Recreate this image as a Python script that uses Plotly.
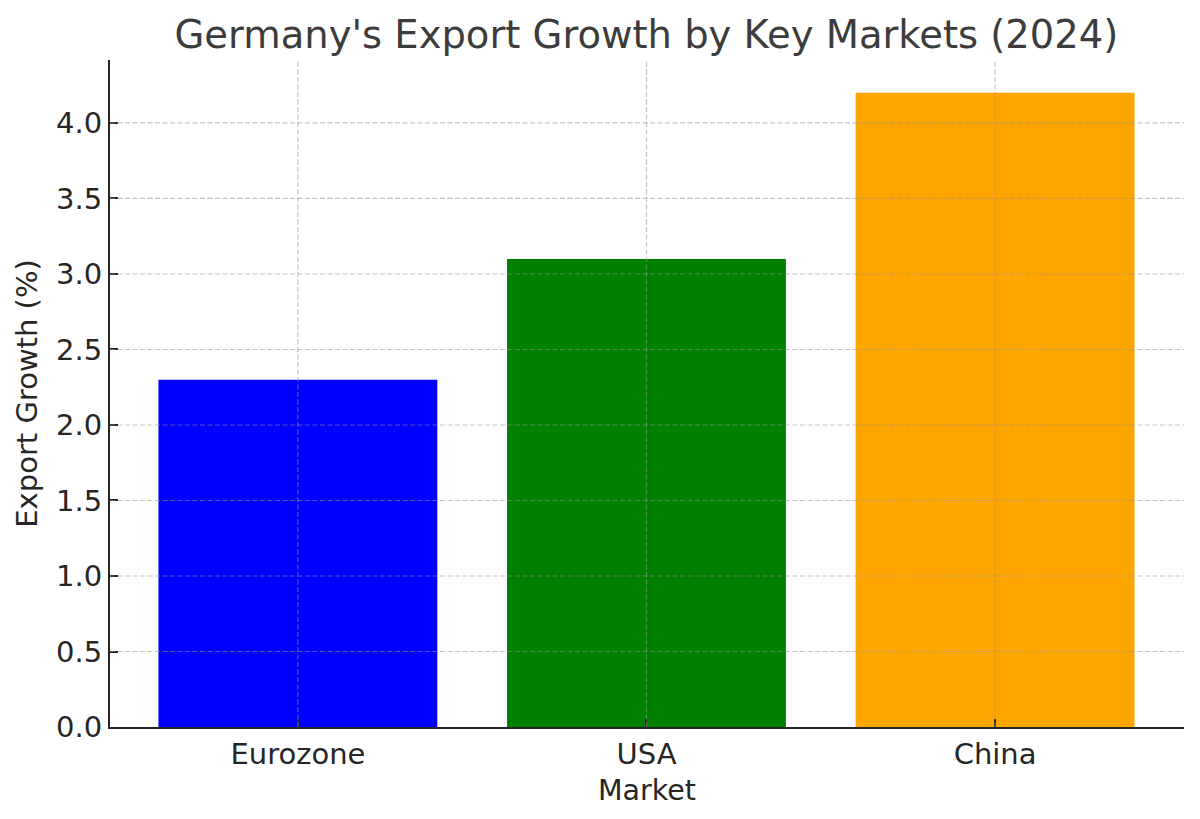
import plotly.graph_objects as go

# Data
markets = ['Eurozone', 'USA', 'China']
growth = [2.3, 3.1, 4.2]
bar_colors = ['#0000ff', '#008000', '#ffa500']
y_ticks = [0.0, 0.5, 1.0, 1.5, 2.0, 2.5, 3.0, 3.5, 4.0]

fig = go.Figure()

fig.add_trace(go.Bar(x=markets, y=growth, marker_color=bar_colors,
                     marker_line_width=0, width=0.8))

# Grid sits on top of the bars, so draw it as shapes instead of axis grid
grid_line = dict(color='rgba(150,150,150,0.55)', width=1.2, dash='5px,2.5px')
for tick in y_ticks[1:]:
    fig.add_shape(type='line', xref='paper', x0=0, x1=1, yref='y', y0=tick, y1=tick,
                  line=grid_line, layer='above')
for market in markets:
    fig.add_shape(type='line', xref='x', x0=market, x1=market, yref='paper', y0=0, y1=1,
                  line=grid_line, layer='above')

axis_style = dict(showline=True, linecolor='#262626', linewidth=2,
                  ticks='inside', ticklen=8, tickwidth=1.5, tickcolor='#262626',
                  showgrid=False, zeroline=False, layer='above traces')

# Edit the layout
fig.update_layout(
    width=1200, height=819,
    autosize=False,
    paper_bgcolor='white',
    plot_bgcolor='white',
    showlegend=False,
    font=dict(family='DejaVu Sans', color='#262626', size=29),
    title=dict(text="Germany's Export Growth by Key Markets (2024)",
               font=dict(size=38.5, color='#3c3c3c'),
               x=0.532, xanchor='center', y=0.968, yanchor='middle'),
    margin=dict(l=102, r=24, t=52, b=100),
    xaxis=dict(title=dict(text='Market', standoff=10, font=dict(size=28.5)),
               range=[-0.539, 2.542], **axis_style),
    yaxis=dict(title=dict(text='Export Growth (%)', standoff=10, font=dict(size=29)),
               range=[0, 4.417], tickvals=y_ticks, tickformat='.1f', **axis_style),
)

fig.write_html("out.html")
